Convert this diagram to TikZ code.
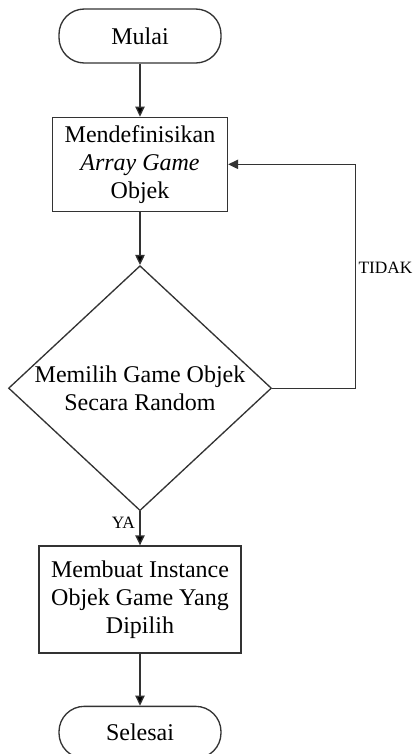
\documentclass[tikz,border=0pt]{standalone}
\usepackage{fontspec}
\setmainfont{Liberation Serif}
\usetikzlibrary{positioning}
\usetikzlibrary{shapes.geometric}
\usetikzlibrary{arrows.meta}

\tikzset{
  base/.style={draw=black!80, line width=1pt, align=center, font=\fontsize{18}{21}\selectfont, inner sep=0pt},
  terminal/.style={base, rectangle, rounded corners=19pt, minimum width=121.5pt, minimum height=40.5pt},
  process/.style={base, rectangle},
  decision/.style={base, diamond, aspect=1, inner xsep=-8pt, minimum width=197.25pt, minimum height=183.75pt},
  flow/.style={draw=black!80, line width=1pt, -{Triangle[length=7.5pt,width=7pt]}},
  cond/.style={font=\fontsize{13}{15}\selectfont}
}

\begin{document}
\begin{tikzpicture}[x=0.75pt,y=-0.75pt]
  \useasboundingbox (0,0) rectangle (413,754);
  \node[terminal] (mulai) at (140,36) {Mulai};
  \node[process, below=39.75pt of mulai, minimum width=131.25pt, minimum height=70.5pt] (definisi) {Mendefinisikan\\ \textit{Array Game}\\ Objek};
  \node[decision, below=39.75pt of definisi] (pilih) {Memilih Game Objek\\ Secara Random};
  \node[process, below=25.5pt of pilih, minimum width=151.5pt, minimum height=80.25pt] (instance) {Membuat Instance\\ Objek Game Yang\\ Dipilih};
  \node[terminal, below=39pt of instance, minimum height=39pt] (selesai) {Selesai};
  \path[flow]
    (mulai) edge (definisi)
    (definisi) edge (pilih)
    (pilih) edge node[cond, pos=0.35, left] {YA} (instance)
    (instance) edge (selesai);
  \draw[flow] (pilih.east) -- ++(83,0) |- node[cond, pos=0.27, right, inner sep=2pt] {TIDAK} (definisi.east);
\end{tikzpicture}
\end{document}
